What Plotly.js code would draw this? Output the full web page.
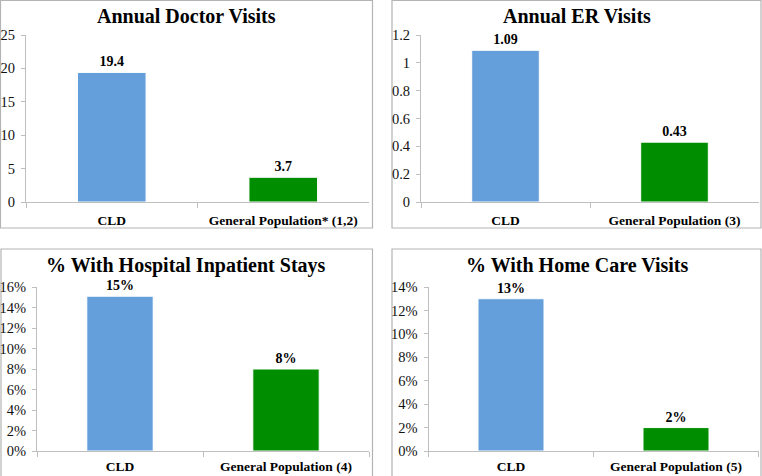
<!DOCTYPE html>
<html>
<head>
<meta charset="utf-8">
<script src="https://cdn.plot.ly/plotly-3.0.1.min.js"></script>
<style>html,body{margin:0;padding:0;background:#fff;}#chart{width:762px;height:476px;}</style>
</head>
<body>
<div id="chart"></div>
<script>
// ---- data ----
const categoriesDoctor = ["CLD", "General Population* (1,2)"];
const valuesDoctor = [19.4, 3.7];
const categoriesER = ["CLD", "General Population (3)"];
const valuesER = [1.09, 0.43];
const categoriesHospital = ["CLD", "General Population (4)"];
const valuesHospital = [0.151, 0.08];
const categoriesHome = ["CLD", "General Population (5)"];
const valuesHome = [0.13, 0.02];
const panelTitles = ["Annual Doctor Visits", "Annual ER Visits", "% With Hospital Inpatient Stays", "% With Home Care Visits"];

// ---- styling ----
const W = 762, H = 476;
const barColors = ["#659fdb", "#008e00"];
const serif = "'Times New Roman', 'Liberation Serif', 'DejaVu Serif', serif";
const gridGray = "#bfbfbf";

function bar(cats, vals, xa, ya, fmt) {
  return {
    type: "bar", x: cats, y: vals, xaxis: xa, yaxis: ya,
    width: 0.4,
    marker: {color: barColors, line: {color: "#ffffff", width: 1}},
    texttemplate: fmt, textposition: "outside", cliponaxis: false,
    textfont: {family: serif, size: 14, color: "#000", weight: "bold"},
    hoverinfo: "skip", showlegend: false
  };
}

const traces = [
  bar(categoriesDoctor, valuesDoctor, "x", "y", "%{y}"),
  bar(categoriesER, valuesER, "x2", "y2", "%{y}"),
  bar(categoriesHospital, valuesHospital, "x3", "y3", "%{y:.0%}"),
  bar(categoriesHome, valuesHome, "x4", "y4", "%{y:.0%}")
];

function px(x) { return x / W; }
function py(y) { return (H - y) / H; }

function xaxis(d, anchor, standoff) {
  return {
    domain: [px(d[0]), px(d[1])], anchor: anchor, type: "category",
    showline: true, linecolor: gridGray, linewidth: 1,
    ticks: "outside", tickson: "boundaries", ticklen: 5, tickcolor: gridGray,
    showgrid: false, zeroline: false, fixedrange: true,
    ticklabelstandoff: standoff,
    tickfont: {family: serif, size: 13.5, color: "#000", weight: "bold"}
  };
}
function yaxis(d, anchor, range, dtick, fmt) {
  const a = {
    domain: [py(d[1]), py(d[0])], anchor: anchor, range: range, dtick: dtick,
    showline: true, linecolor: gridGray, linewidth: 1,
    ticks: "outside", ticklen: 4, tickcolor: gridGray,
    showgrid: false, zeroline: false, fixedrange: true,
    ticklabelstandoff: 3,
    tickfont: {family: serif, size: 14.5, color: "#111"}
  };
  if (fmt) a.tickformat = fmt;
  return a;
}

const boxes = [
  [0.5, 0.5, 372.5, 228],
  [392, 0.5, 761, 228],
  [1, 249, 372.5, 477],
  [392, 249, 761, 477]
];
const shapes = boxes.map(b => ({
  type: "rect", xref: "paper", yref: "paper",
  x0: px(b[0]), x1: px(b[2]), y0: py(b[3]), y1: py(b[1]),
  line: {color: "#b4b4b4", width: 1.2}, fillcolor: "rgba(0,0,0,0)", layer: "below"
}));

const titlePos = [[186, 16], [577, 16], [186, 265], [577, 265]];
const annotations = panelTitles.map((t, i) => ({
  text: t, xref: "paper", yref: "paper",
  x: px(titlePos[i][0]), y: py(titlePos[i][1]),
  xanchor: "center", yanchor: "middle", showarrow: false,
  font: {family: serif, size: 20, color: "#000", weight: "bold"}
}));

const layout = {
  width: W, height: H, margin: {l: 0, r: 0, t: 0, b: 0},
  paper_bgcolor: "#fff", plot_bgcolor: "rgba(0,0,0,0)",
  bargap: 0.6,
  xaxis: xaxis([26, 369], "y", 6),
  yaxis: yaxis([35, 202], "x", [0, 25], 5),
  xaxis2: xaxis([421, 759], "y2", 6),
  yaxis2: yaxis([35, 202], "x2", [0, 1.2], 0.2),
  xaxis3: xaxis([37, 369], "y3", 3),
  yaxis3: yaxis([287, 451], "x3", [0, 0.16], 0.02, ".0%"),
  xaxis4: xaxis([428.5, 758.5], "y4", 3),
  yaxis4: yaxis([287, 451], "x4", [0, 0.14], 0.02, ".0%"),
  shapes: shapes,
  annotations: annotations
};

Plotly.newPlot("chart", traces, layout, {displayModeBar: false, staticPlot: true});
</script>
</body>
</html>
